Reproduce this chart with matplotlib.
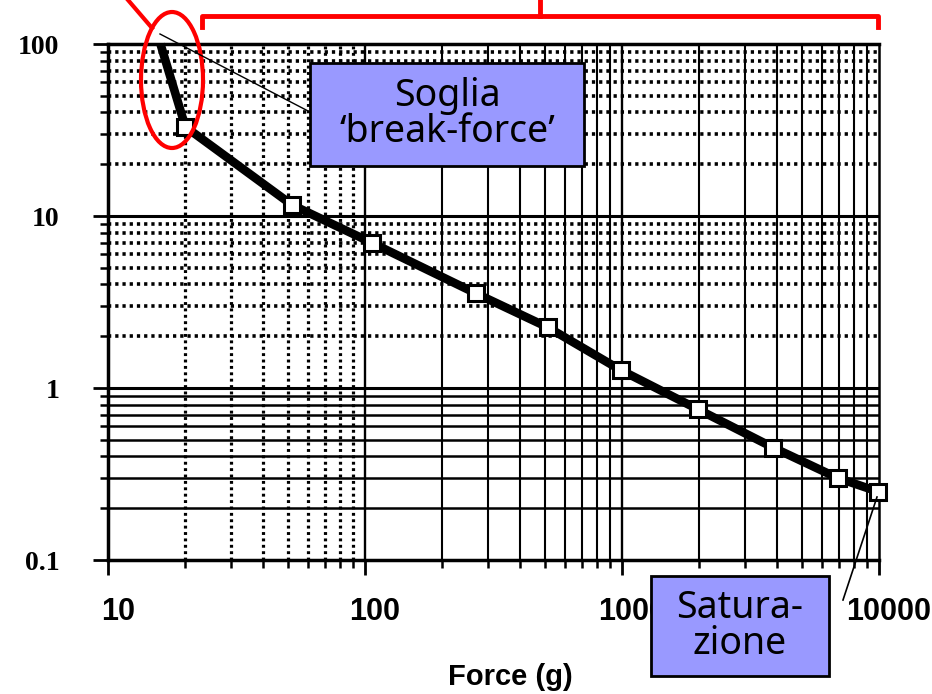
import matplotlib
matplotlib.use("Agg")
import matplotlib.pyplot as plt
import matplotlib.transforms as mtransforms
from matplotlib.patches import Ellipse, Rectangle
from matplotlib.lines import Line2D

# data (force in g, response)
force = [16, 20, 52, 106, 270, 515, 990, 1980, 3880, 6900, 9900]
resp = [100, 33, 11.6, 7.0, 3.55, 2.25, 1.27, 0.75, 0.45, 0.30, 0.25]

x_ticks = [10, 100, 1000, 10000]
x_labels = ["10", "100", "1000", "10000"]
y_ticks = [0.1, 1, 10, 100]
y_labels = ["0.1", "1", "10", "100"]

W, H = 932, 694


def fx(px):
    return px / W


def fy(py):
    return 1 - py / H


fig = plt.figure(figsize=(W / 100, H / 100), dpi=100)
ax = fig.add_axes([fx(108), fy(560), fx(879) - fx(108), fy(44) - fy(560)])
ax.set_xscale("log")
ax.set_yscale("log")
ax.set_xlim(10, 10000)
ax.set_ylim(0.1, 100)

# grid of the log paper: dotted in some decades, solid in others
dots = (0, (0.9, 1.1))
for d in [0.1, 1, 10]:
    for k in range(2, 10):
        if d == 0.1:
            ax.axhline(k * d, color="black", lw=1.8, zorder=1)
        else:
            ax.axhline(k * d, color="black", lw=2.6, ls=dots, zorder=1)
for d in [10, 100, 1000]:
    for k in range(2, 10):
        if d == 10:
            ax.axvline(k * d, color="black", lw=2.3, ls=dots, zorder=1)
        else:
            ax.axvline(k * d, color="black", lw=1.5, zorder=1)
for v in [1, 10]:
    ax.axhline(v, color="black", lw=2.2, zorder=1)
for v in [100, 1000]:
    ax.axvline(v, color="black", lw=1.7, zorder=1)

ax.plot(force, resp, color="black", lw=6.2, solid_capstyle="butt", zorder=3,
        clip_on=False)
ax.plot(force[1:], resp[1:], ls="none", marker="s", ms=11, mfc="white",
        mec="black", mew=2.2, zorder=4, clip_on=False)

for s in ["left", "bottom", "top"]:
    ax.spines[s].set_linewidth(2.5)
ax.spines["right"].set_linewidth(1.8)

ax.set_xticks(x_ticks)
ax.set_xticklabels(x_labels)
ax.set_yticks(y_ticks)
ax.set_yticklabels(y_labels)
ax.tick_params(axis="both", which="major", direction="out", length=11,
               width=2, color="black")
ax.tick_params(axis="both", which="minor", direction="out", length=6,
               width=1.8, color="black")
ax.tick_params(axis="x", which="major", pad=16, labelsize=22)
ax.tick_params(axis="y", which="major", pad=24, labelsize=20)
shift = mtransforms.ScaledTranslation(10 / 100, 0, fig.dpi_scale_trans)
for lab in ax.get_xticklabels():
    lab.set_fontfamily("Liberation Sans")
    lab.set_fontweight("bold")
    lab.set_transform(lab.get_transform() + shift)
for lab in ax.get_yticklabels():
    lab.set_fontfamily("Liberation Serif")
    lab.set_fontweight("bold")
ax.yaxis.set_minor_formatter(matplotlib.ticker.NullFormatter())
ax.xaxis.set_minor_formatter(matplotlib.ticker.NullFormatter())

fig.text(fx(510), fy(677), "Force (g)", ha="center", va="center",
         fontsize=21, fontweight="bold", family="Liberation Sans")

# red annotations
fig.add_artist(Ellipse((fx(172), fy(80)), 62 / W, 136 / H, fill=False,
                       ec="red", lw=3))
fig.add_artist(Line2D([fx(128), fx(152)], [fy(0), fy(28)], color="red", lw=3))
fig.add_artist(Line2D([fx(202), fx(202), fx(878), fx(878)],
                      [fy(27), fy(16), fy(16), fy(27)], color="red", lw=3.5))
fig.add_artist(Line2D([fx(540), fx(540)], [fy(16), fy(0)], color="red", lw=3.5))

# label boxes with connectors
fig.add_artist(Line2D([fx(160), fx(310)], [fy(34), fy(112)], color="black",
                      lw=1))
fig.add_artist(Line2D([fx(843), fx(877)], [fy(600), fy(497)], color="black",
                      lw=1.2))
fig.add_artist(Rectangle((fx(310), fy(166)), fx(584) - fx(310),
                         fy(63) - fy(166), fc="#9999ff", ec="black", lw=2))
fig.add_artist(Rectangle((fx(651), fy(676)), fx(829) - fx(651),
                         fy(576) - fy(676), fc="#9999ff", ec="black", lw=2))
fig.text(fx(447), fy(114), "Soglia\n\u2018break-force\u2019", ha="center",
         va="center", fontsize=27, linespacing=0.95, family="Noto Sans",
         zorder=5)
fig.text(fx(740), fy(626), "Satura-\nzione", ha="center", va="center",
         fontsize=27, linespacing=0.95, family="Noto Sans", zorder=5)

fig.savefig("out.png", dpi=100)
